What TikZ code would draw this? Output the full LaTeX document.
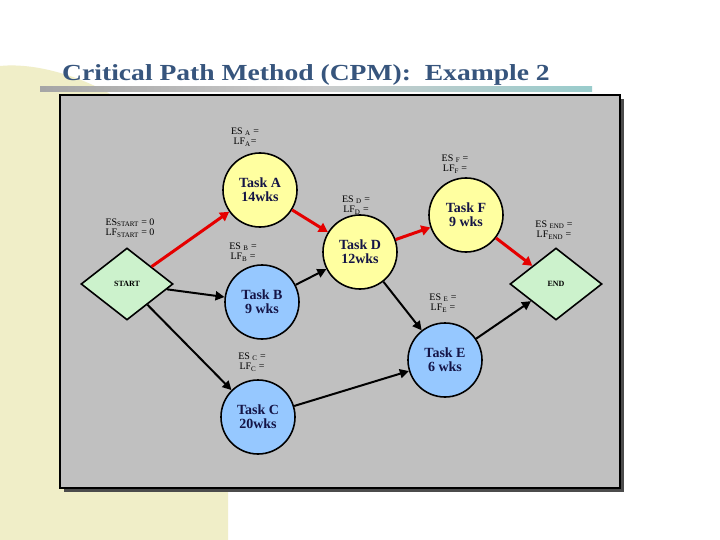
\documentclass[tikz,border=0pt]{standalone}
\usepackage{fontspec}
\setmainfont{Liberation Serif}
\usetikzlibrary{shapes.geometric,arrows.meta,shadows}
\definecolor{bgy}{RGB}{240,238,200}
\definecolor{boxg}{RGB}{192,192,192}
\definecolor{ty}{RGB}{255,255,160}
\definecolor{tb}{RGB}{150,200,255}
\definecolor{tg}{RGB}{204,242,204}
\definecolor{ttl}{RGB}{55,85,125}
\definecolor{nv}{RGB}{20,20,70}
\newcommand{\sbx}[1]{\textsubscript{#1}}
\begin{document}
\begin{tikzpicture}[x=1pt,y=-1pt,
 task/.style={circle,draw=black,line width=1.6pt,minimum size=74pt,inner sep=0pt,align=center,font=\bfseries\fontsize{14}{14}\selectfont,text=nv},
 yt/.style={task,fill=ty}, bt/.style={task,fill=tb},
 dia/.style={diamond,draw=black,line width=1.6pt,fill=tg,minimum width=92pt,minimum height=72pt,inner sep=0pt,font=\bfseries\fontsize{8}{8}\selectfont},
 lab/.style={align=center,font=\fontsize{10}{10.5}\selectfont,inner sep=0pt},
 crit/.style={red!90!black,line width=3pt,-{Triangle[length=9pt,width=10pt]}},
 norm/.style={black,line width=2pt,-{Triangle[length=9pt,width=9pt]}}]
\useasboundingbox (0,0) rectangle (720,540);
\fill[white] (0,0) rectangle (720,540);
\fill[bgy] (0,66) .. controls (40,62) and (90,80) .. (120,100) -- (228,100) -- (228,540) -- (0,540) -- cycle;
\node[anchor=base west,text=ttl,font=\bfseries\fontsize{23}{23}\selectfont,inner sep=0pt,xscale=1.2] (title) at (62,81) {Critical Path Method (CPM):\ \ Example 2};
\shade[left color=gray!70,right color=teal!40,middle color=gray!40] (40,87) rectangle (592,92);
\fill[gray!60!black] (64,99) rectangle (624,492);
\filldraw[fill=boxg,draw=black,line width=2pt] (60,95) rectangle (620,488);
\node[dia] (start) at (127,284) {START};
\node[dia] (end) at (556,284) {END};
\node[yt] (A) at (260,190) {Task A\\14wks};
\node[bt] (B) at (262,302) {Task B\\ 9 wks};
\node[bt] (C) at (258,417) {Task C\\20wks};
\node[yt] (D) at (360,252) {Task D\\ 12wks};
\node[bt] (E) at (445,360) {Task E\\ 6 wks};
\node[yt] (F) at (466,215) {Task F\\ 9 wks};
\node[lab] (lA) at (245,137) {ES \sbx{A} =\\LF\sbx{A}=};
\node[lab] (lS) at (130,228) {ES\sbx{START} = 0\\LF\sbx{START} = 0};
\node[lab] (lB) at (243,252) {ES \sbx{B} =\\LF\sbx{B} =};
\node[lab] (lC) at (252,362) {ES \sbx{C} =\\LF\sbx{C} =};
\node[lab] (lD) at (356,205) {ES \sbx{D} =\\LF\sbx{D} =};
\node[lab] (lF) at (455,164) {ES \sbx{F} =\\LF\sbx{F} =};
\node[lab] (lN) at (554,230) {ES \sbx{END} =\\LF\sbx{END} =};
\node[lab] (lE) at (443,303) {ES \sbx{E} =\\LF\sbx{E} =};
\draw[crit] (start) -- (A);
\draw[crit] (A) -- (D);
\draw[crit] (D) -- (F);
\draw[crit] (F) -- (end);
\draw[norm] (start) -- (B);
\draw[norm] (start) -- (C);
\draw[norm] (B) -- (D);
\draw[norm] (D) -- (E);
\draw[norm] (C) -- (E);
\draw[norm] (E) -- (end);
\end{tikzpicture}
\end{document}
